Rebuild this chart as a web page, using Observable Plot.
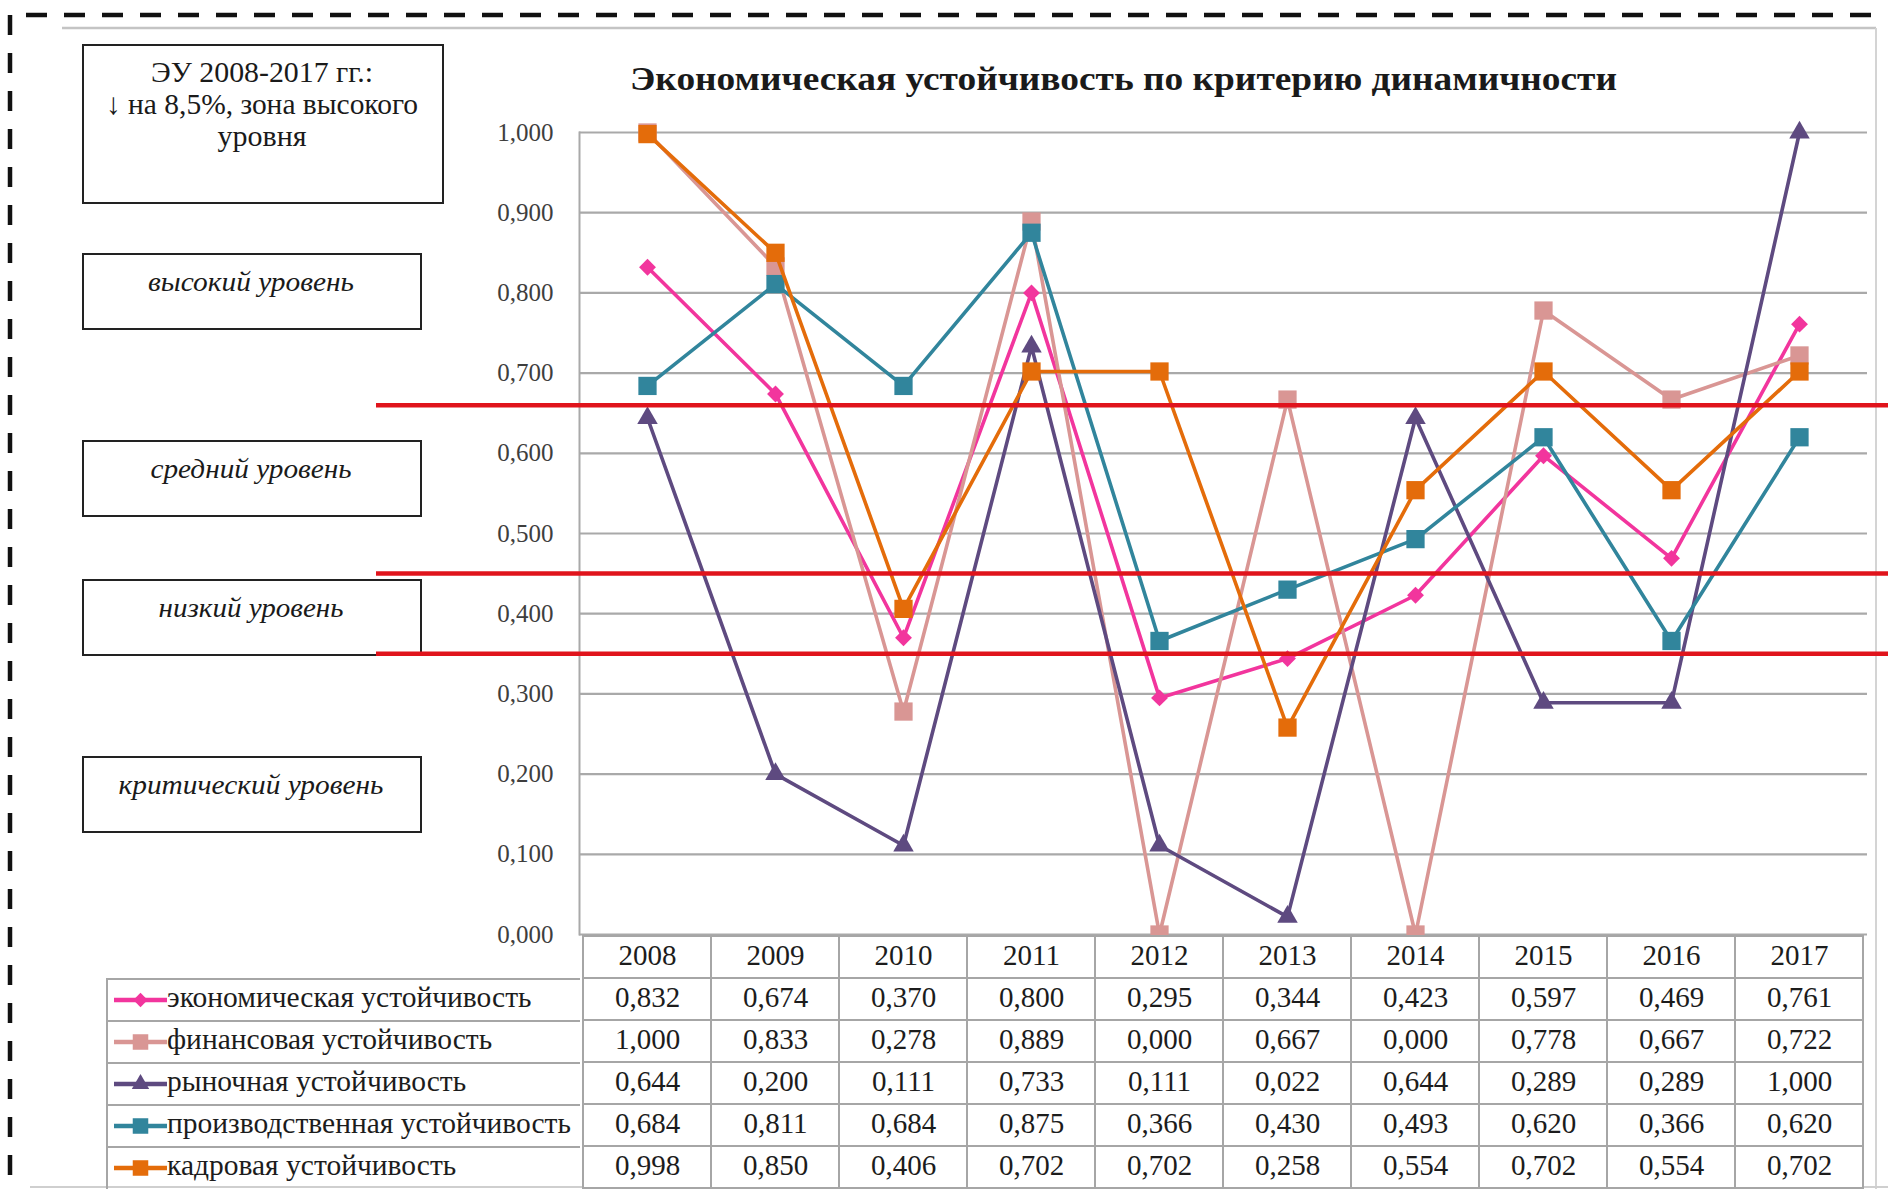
<!DOCTYPE html>
<html>
<head>
<meta charset="utf-8">
<script src="https://cdn.jsdelivr.net/npm/d3@7"></script>
<script src="https://cdn.jsdelivr.net/npm/@observablehq/plot@0.6"></script>
<style>
  html, body { margin: 0; padding: 0; background: #fff; }
  #root { position: relative; width: 1888px; height: 1189px; overflow: hidden; background: #fff;
          font-family: "Liberation Serif", "Times New Roman", serif; }
  .layer { position: absolute; left: 0; top: 0; }
  .legrow { position: absolute; box-sizing: border-box; border-top: 2px solid #a6a6a6; border-left: 2px solid #a6a6a6; }
  .legrow span { position: absolute; left: 59px; top: -4px; white-space: nowrap; font-size: 29.5px; color: #1c1c1c;
                 font-family: "Liberation Serif", "Times New Roman", serif; }
  .legrow svg { position: absolute; left: 4px; top: -1px; }
</style>
</head>
<body>
<div id="root"></div>
<script>
// ---------------- data ----------------
const years = ["2008","2009","2010","2011","2012","2013","2014","2015","2016","2017"];
const seriesNames = [
  "экономическая устойчивость",
  "финансовая  устойчивость",
  "рыночная  устойчивость",
  "производственная  устойчивость",
  "кадровая устойчивость"
];
const economic   = [0.832, 0.674, 0.370, 0.800, 0.295, 0.344, 0.423, 0.597, 0.469, 0.761];
const financial  = [1.000, 0.833, 0.278, 0.889, 0.000, 0.667, 0.000, 0.778, 0.667, 0.722];
const market     = [0.644, 0.200, 0.111, 0.733, 0.111, 0.022, 0.644, 0.289, 0.289, 1.000];
const production = [0.684, 0.811, 0.684, 0.875, 0.366, 0.430, 0.493, 0.620, 0.366, 0.620];
const personnel  = [0.998, 0.850, 0.406, 0.702, 0.702, 0.258, 0.554, 0.702, 0.554, 0.702];
const seriesValues = [economic, financial, market, production, personnel];
const seriesColors = ["#f2359d", "#d99694", "#5e4a80", "#31859c", "#e46c0a"];
const seriesSymbols = ["diamond2", "square", "triangle", "square", "square"];
const yTicks = [0, 0.1, 0.2, 0.3, 0.4, 0.5, 0.6, 0.7, 0.8, 0.9, 1.0];
const levelThresholds = [0.66, 0.45, 0.35];
const levelLabels = ["высокий уровень", "средний уровень", "низкий уровень", "критический уровень"];
const titleText = "Экономическая устойчивость по критерию динамичности";
const noteLines = ["ЭУ 2008-2017 гг.:", "↓ на 8,5%, зона высокого", "уровня"];

// ---------------- helpers ----------------
const fmt = v => v.toFixed(3).replace(".", ",");
const rows = [];
seriesNames.forEach((name, i) => seriesValues[i].forEach((v, j) => rows.push({series: name, year: years[j], value: v})));
const symbolR = {diamond2: 7.6, square: 10.3, triangle: 7.6};

const W = 1888, H = 1189;
const root = d3.select("#root");
const serif = "'Liberation Serif', 'Times New Roman', serif";

// ---------------- background decoration ----------------
const deco = root.append("svg").attr("class", "layer").attr("width", W).attr("height", H);
deco.append("line").attr("x1", 26).attr("x2", W).attr("y1", 15).attr("y2", 15)
  .attr("stroke", "#111").attr("stroke-width", 4.5).attr("stroke-dasharray", "21 17");
deco.append("line").attr("x1", 10).attr("x2", 10).attr("y1", 15).attr("y2", H)
  .attr("stroke", "#111").attr("stroke-width", 4.5).attr("stroke-dasharray", "20 18");
deco.append("line").attr("x1", 62).attr("x2", 1876).attr("y1", 28).attr("y2", 28)
  .attr("stroke", "#c4c4c4").attr("stroke-width", 2.5);
deco.append("line").attr("x1", 1876).attr("x2", 1876).attr("y1", 28).attr("y2", H)
  .attr("stroke", "#d4d4d4").attr("stroke-width", 2);
deco.append("line").attr("x1", 30).attr("x2", W).attr("y1", 1187).attr("y2", 1187)
  .attr("stroke", "#cfcfcf").attr("stroke-width", 2);
deco.append("text").text(titleText)
  .attr("x", 630).attr("y", 90)
  .attr("font-family", serif)
  .attr("font-weight", "bold").attr("font-size", 33).attr("fill", "#1a1a1a")
  .attr("textLength", 987).attr("lengthAdjust", "spacingAndGlyphs");

// ---------------- annotation boxes (under the red level lines) ----------------
deco.append("rect").attr("x", 83).attr("y", 45).attr("width", 360).attr("height", 158)
  .attr("fill", "white").attr("stroke", "#222").attr("stroke-width", 2);
const noteBase = [82, 114, 146];
const noteWidths = [222, 312, null];
noteLines.forEach((t, k) => {
  const el = deco.append("text").text(t).attr("x", noteWidths[k] ? 262 - noteWidths[k] / 2 : 262)
    .attr("y", noteBase[k]).attr("font-family", serif).attr("font-size", 30).attr("fill", "#1a1a1a");
  if (noteWidths[k]) el.attr("textLength", noteWidths[k]).attr("lengthAdjust", "spacingAndGlyphs");
  else el.attr("text-anchor", "middle");
});
const boxTops = [254, 441, 580, 757];
const labelWidths = [206, 201, 185, 265];
levelLabels.forEach((t, k) => {
  deco.append("rect").attr("x", 83).attr("y", boxTops[k]).attr("width", 338).attr("height", 75)
    .attr("fill", "white").attr("stroke", "#222").attr("stroke-width", 2);
  deco.append("text").text(t).attr("x", 251 - labelWidths[k] / 2).attr("y", boxTops[k] + 37)
    .attr("font-family", serif).attr("font-style", "italic").attr("font-size", 28).attr("fill", "#1a1a1a")
    .attr("textLength", labelWidths[k]).attr("lengthAdjust", "spacingAndGlyphs");
});

// ---------------- main chart ----------------
const marks = [
  Plot.ruleY(yTicks, {stroke: "#a9a9a9", strokeWidth: 2.2}),
  Plot.axisY(yTicks, {tickSize: 0, tickPadding: 26, tickFormat: fmt, fontSize: 25, color: "#3e3e3e",
                      fontFamily: "Liberation Serif", label: null}),
  Plot.frame({anchor: "left", stroke: "#a9a9a9", strokeWidth: 2})
];
seriesNames.forEach((name, i) => {
  const data = rows.filter(r => r.series === name);
  marks.push(Plot.line(data, {x: "year", y: "value", stroke: seriesColors[i], strokeWidth: 3.6}));
  marks.push(Plot.dot(data, {x: "year", y: "value", symbol: seriesSymbols[i], fill: seriesColors[i],
                             stroke: "none", r: symbolR[seriesSymbols[i]]}));
});
marks.push(Plot.ruleY(levelThresholds, {stroke: "#e0141c", strokeWidth: 4.5, insetLeft: -203, insetRight: -21}));

const chart = Plot.plot({
  width: W, height: 975,
  marginLeft: 579, marginRight: 21, marginTop: 132, marginBottom: 41,
  x: {type: "band", domain: years, padding: 0, axis: null},
  y: {domain: [0, 1]},
  style: {background: "transparent", overflow: "visible", fontFamily: "Liberation Serif"},
  marks
});
root.append("div").attr("class", "layer").node().appendChild(chart);

// ---------------- data table ----------------
const HEADER = "год";
const headerCells = years.map(y => ({year: y, row: HEADER}));
const bodyCells = rows.map(r => ({year: r.year, row: r.series, value: r.value}));
const table = Plot.plot({
  width: W, height: 256,
  marginLeft: 579, marginRight: 21, marginTop: 0, marginBottom: 0,
  x: {type: "band", domain: years, padding: 0, axis: null},
  y: {type: "band", domain: [HEADER, ...seriesNames], padding: 0, axis: null},
  style: {background: "transparent", overflow: "visible", fontFamily: "Liberation Serif"},
  marks: [
    Plot.cell(headerCells, {x: "year", y: "row", fill: "white", stroke: "#a6a6a6", strokeWidth: 2, inset: 0}),
    Plot.cell(bodyCells, {x: "year", y: "row", fill: "white", stroke: "#a6a6a6", strokeWidth: 2, inset: 0}),
    Plot.text(headerCells, {x: "year", y: "row", text: "year", fontSize: 29, fill: "#1c1c1c", dy: -2, fontFamily: "Liberation Serif"}),
    Plot.text(bodyCells, {x: "year", y: "row", text: d => fmt(d.value), fontSize: 29, fill: "#1c1c1c", dy: -2, fontFamily: "Liberation Serif"})
  ]
});
root.append("div").attr("class", "layer").style("top", "934px").node().appendChild(table);

// legend column of the table (HTML legend)
const ys = table.scale("y");
const bw = ys.bandwidth;
const symMap = {diamond2: d3.symbolDiamond2, square: d3.symbolSquare, triangle: d3.symbolTriangle};
seriesNames.forEach((name, i) => {
  const rowTop = 934 + ys.apply(name);
  const row = root.append("div").attr("class", "legrow")
    .style("left", "106px").style("top", rowTop + "px")
    .style("width", (579 - 106 + 1) + "px").style("height", (bw + 2) + "px");
  const sw = row.append("svg").attr("width", 56).attr("height", bw);
  sw.append("line").attr("x1", 2).attr("x2", 55).attr("y1", bw / 2).attr("y2", bw / 2)
    .attr("stroke", seriesColors[i]).attr("stroke-width", 4.5);
  const r = symbolR[seriesSymbols[i]] * 0.85;
  sw.append("path").attr("d", d3.symbol(symMap[seriesSymbols[i]], Math.PI * r * r)())
    .attr("transform", `translate(28.5,${bw / 2})`).attr("fill", seriesColors[i]);
  row.append("span").text(name.replace(/\s+/g, " ")).style("line-height", bw + "px");
});
</script>
</body>
</html>
